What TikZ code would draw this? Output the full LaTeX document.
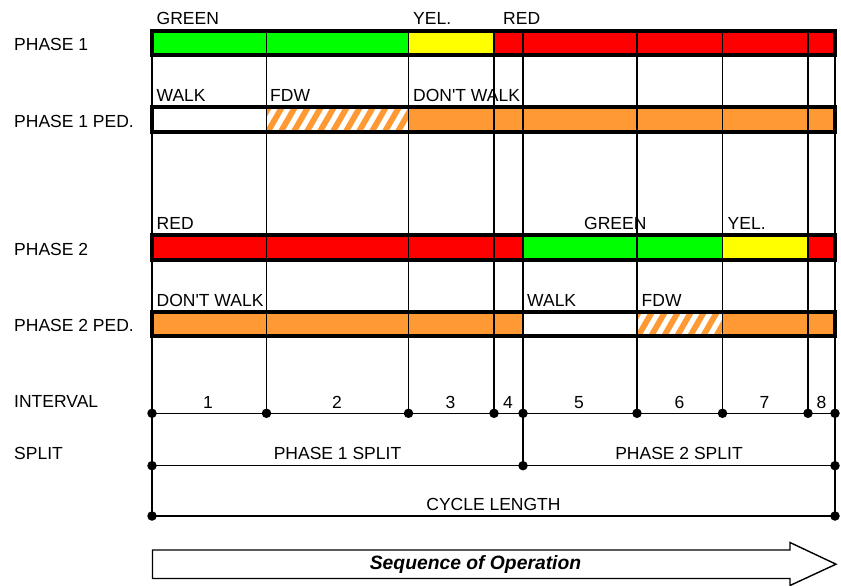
\documentclass[tikz,border=0pt]{standalone}
\usepackage{fontspec}
\setmainfont{Liberation Sans}
\definecolor{sgreen}{HTML}{00FF00}
\definecolor{sred}{HTML}{FF0000}
\definecolor{syellow}{HTML}{FFFF00}
\definecolor{pedorange}{HTML}{FF9933}
\newcommand\hatchfill[4]{%
  \begin{scope}
    \clip (#1,#2) rectangle (#3,#4);
    \fill[white] (#1,#2) rectangle (#3,#4);
    \foreach \k in {-2,...,12} \draw[stripe] ({#1+\k*13},#4+2) -- ++(15.6,-27);
  \end{scope}}
\begin{document}
\begin{tikzpicture}[x=1pt,y=-1pt,font=\fontsize{17.5}{20}\selectfont]
\tikzset{
  barline/.style={line width=3.3pt},
  grid/.style={line width=1.5pt},
  lbl/.style={anchor=base west, inner sep=0pt},
  num/.style={anchor=base, inner sep=0pt},
  dot/.style={circle, fill=black, inner sep=0pt, minimum size=9.5pt},
  stripe/.style={draw=pedorange, line width=5.8pt},
}
\useasboundingbox (0,0) rectangle (841,586);
\fill[white] (0,0) rectangle (841,586);

% coordinates of the time grid
\foreach \n/\x in {0/152,1/266.5,2/408.5,3/494,4/523,5/637,6/722.5,7/808,8/835} {
  \coordinate (t\n) at (\x,31);
  \coordinate (i\n) at (\x,413.3);
}
\coordinate (s0) at (152,465.7);
\coordinate (s4) at (523,465.7);
\coordinate (s8) at (835,465.7);
\coordinate (c0) at (152,516);
\coordinate (c8) at (835,516);

% Phase 1
\fill[sgreen] (152,31) rectangle (408.5,55);
\fill[syellow] (408.5,31) rectangle (494,55);
\fill[sred] (494,31) rectangle (835,55);
% Phase 1 ped
\fill[white] (152,107) rectangle (266.5,132);
\hatchfill{266.5}{107}{408.5}{132}
\fill[pedorange] (408.5,107) rectangle (835,132);
% Phase 2
\fill[sred] (152,235) rectangle (523,260);
\fill[sgreen] (523,235) rectangle (722.5,260);
\fill[syellow] (722.5,235) rectangle (808,260);
\fill[sred] (808,235) rectangle (835,260);
% Phase 2 ped
\fill[pedorange] (152,312) rectangle (523,336);
\fill[white] (523,312) rectangle (637,336);
\hatchfill{637}{312}{722.5}{336}
\fill[pedorange] (722.5,312) rectangle (835,336);

% vertical grid lines
\foreach \n in {1,2,3,5,6,7} \draw[grid] (t\n) -- (i\n);
\draw[grid] (t4) -- (s4);
\draw[grid] (t0) -- (c0);
\draw[grid] (t8) -- (c8);

% bar outlines
\draw[barline] (152,31) rectangle (835,55);
\draw[barline] (152,107) rectangle (835,132);
\draw[barline] (152,235) rectangle (835,260);
\draw[barline] (152,312) rectangle (835,336);

% interval / split / cycle lines
\draw[grid] (i0) -- (i8);
\draw[grid] (s0) -- (s8);
\draw[grid] (c0) -- (c8);
\foreach \n in {0,...,8} \node[dot] (di\n) at (i\n) {};
\node[dot] (ds0) at (s0) {};
\node[dot] (ds4) at (s4) {};
\node[dot] (ds8) at (s8) {};
\node[dot] (dc0) at (c0) {};
\node[dot] (dc8) at (c8) {};

% row labels
\node[lbl] (lp1) at (14,51) {PHASE 1};
\node[lbl] (lp1p) at (14,127.3) {PHASE 1 PED.};
\node[lbl] (lp2) at (14,255) {PHASE 2};
\node[lbl] (lp2p) at (14,331.5) {PHASE 2 PED.};
\node[lbl] (lint) at (14,407.7) {INTERVAL};
\node[lbl] (lspl) at (14,459) {SPLIT};

% bar labels
\node[lbl] (g1) at (156.5,25) {GREEN};
\node[lbl] (y1) at (413,25) {YEL.};
\node[lbl] (r1) at (503,25) {RED};
\node[lbl] (w1) at (156.5,101.7) {WALK};
\node[lbl] (f1) at (270,101.7) {FDW};
\node[lbl] (d1) at (413,101.7) {DON\textquotesingle T WALK};
\node[lbl] (r2) at (156.5,229.3) {RED};
\node[lbl] (g2) at (584,229.3) {GREEN};
\node[lbl] (y2) at (727.5,229.3) {YEL.};
\node[lbl] (d2) at (156.5,306) {DON\textquotesingle T WALK};
\node[lbl] (w2) at (527,306) {WALK};
\node[lbl] (f2) at (641.5,306) {FDW};

% interval numbers
\foreach \k/\x in {1/208,2/337,3/450.5,4/508,5/579,6/679.5,7/764.5,8/821.5}
  \node[num] (n\k) at (\x,408) {\k};
\node[num] (ps1) at (337.5,459) {PHASE 1 SPLIT};
\node[num] (ps2) at (679,459) {PHASE 2 SPLIT};
\node[num] (cyc) at (493.5,510) {CYCLE LENGTH};

% sequence arrow
\draw[line width=1.4pt, line join=miter] (152.5,550) -- (790,550) -- (790,542.5) -- (836,564.2)
  -- (790,585.5) -- (790,578.5) -- (152.5,578.5) -- cycle;
\node[num, font=\fontsize{19.3}{21}\selectfont\bfseries\itshape] (seq) at (475.5,569.5) {Sequence of Operation};
\end{tikzpicture}
\end{document}
